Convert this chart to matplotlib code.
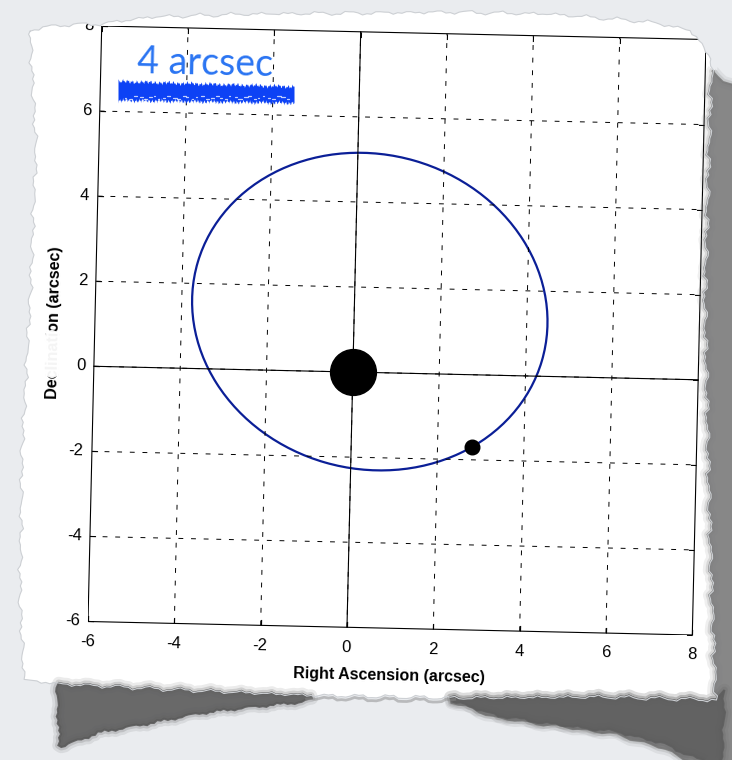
import numpy as np
import matplotlib.pyplot as plt
from matplotlib.patches import Ellipse, Polygon, PathPatch
from matplotlib.path import Path
from matplotlib.transforms import Affine2D
import mpl_toolkits.axisartist.floating_axes as floating_axes
from mpl_toolkits.axisartist.grid_finder import FixedLocator, DictFormatter

plt.rcParams['font.family'] = ['Liberation Sans', 'DejaVu Sans']

# sky-plane orbit, arcsec
x_range = (-6, 8)
y_range = (-6, 8)
x_ticks = [-6, -4, -2, 0, 2, 4, 6, 8]
y_ticks = [-6, -4, -2, 0, 2, 4, 6, 8]
orbit_center = (0.36, 1.43)
orbit_width = 8.30
orbit_height = 7.39
orbit_angle = -15.0
star_pos = (0.0, 0.0)
companion_pos = (2.8, -1.7)
scale_text = '4 arcsec'
tilt = -1.3

W, H = 732, 760
fig = plt.figure(figsize=(W / 100, H / 100), dpi=100, facecolor='#eaecef')


def torn(pts, n, amp, k):
    # resample a rough outline and give it a ragged torn-paper wobble
    pts = np.asarray(pts, float)
    seg = np.r_[0, np.cumsum(np.hypot(*np.diff(pts, axis=0).T))]
    s = np.linspace(0, seg[-1], n)
    x = np.interp(s, seg, pts[:, 0])
    y = np.interp(s, seg, pts[:, 1])
    dx, dy = np.gradient(x), np.gradient(y)
    L = np.hypot(dx, dy)
    wob = amp * (0.5 * np.sin(s * 0.21 + k) + 0.3 * np.sin(s * 0.83 + 2 * k)
                 + 0.2 * np.sin(s * 2.7 + 3 * k))
    return np.c_[x - dy / L * wob, y + dx / L * wob]


top = torn([(30, 30), (60, 25), (100, 24), (150, 17), (250, 14), (366, 13),
            (450, 12), (550, 14), (650, 22), (690, 30), (712, 58)], 160, 2.5, 0.3)
right = torn([(712, 58), (709, 150), (705, 300), (708, 450), (712, 600),
              (716, 700)], 160, 3.5, 1.1)
bottom = torn([(716, 700), (600, 697), (450, 698), (300, 695), (180, 690),
               (60, 684), (24, 680)], 160, 2.5, 2.0)
left = torn([(24, 680), (20, 600), (22, 450), (30, 300), (36, 150), (30, 30)],
            160, 3.0, 0.7)
paper = np.vstack([top, right[1:], bottom[1:], left[1:-1]])

# paper sheet underneath the plot
back = fig.add_axes([0, 0, 1, 1], zorder=0)
back.set_xlim(0, W)
back.set_ylim(H, 0)
back.axis('off')
back.add_patch(Polygon(paper, closed=True, facecolor='white', edgecolor='none'))

# rotated plot frame
tr = Affine2D().rotate_deg(tilt)
helper = floating_axes.GridHelperCurveLinear(
    tr, extremes=(*x_range, *y_range),
    grid_locator1=FixedLocator(x_ticks), grid_locator2=FixedLocator(y_ticks),
    tick_formatter1=DictFormatter({v: str(v) for v in x_ticks}),
    tick_formatter2=DictFormatter({v: str(v) for v in y_ticks}))
ax = fig.add_axes([88 / W, 1 - 635 / H, 618 / W, 609 / H],
                  axes_class=floating_axes.FloatingAxes, grid_helper=helper,
                  zorder=1)
ax.set_aspect('auto')
ax.patch.set_facecolor('white')
ax.grid(True, color='black', linestyle=(0, (5, 8)), linewidth=0.7)
for name in ['left', 'right', 'top', 'bottom']:
    ax.axis[name].line.set_linewidth(0.8)
    ax.axis[name].major_ticks.set_ticksize(4)
    ax.axis[name].major_ticklabels.set_fontsize(12)
ax.axis['left'].major_ticklabels.set_pad(6)
ax.axis['bottom'].major_ticklabels.set_pad(9)
ax.axis['bottom'].label.set_text('Right Ascension (arcsec)')
ax.axis['bottom'].label.set_fontsize(11.5)
ax.axis['bottom'].label.set_fontweight('bold')
ax.axis['bottom'].label.set_pad(11)
ax.axis['left'].label.set_text('Declination (arcsec)')
ax.axis['left'].label.set_fontsize(11.5)
ax.axis['left'].label.set_fontweight('bold')
ax.axis['left'].label.set_pad(7)

aux = ax.get_aux_axes(tr)
aux.plot(x_range, [0, 0], color='black', lw=0.8)
aux.plot([0, 0], y_range, color='black', lw=0.8)
aux.add_patch(Ellipse(orbit_center, orbit_width, orbit_height, angle=orbit_angle,
                      fill=False, edgecolor='#0b1f97', lw=1.6))
aux.plot(*star_pos, 'o', ms=33, color='black')
aux.plot(*companion_pos, 'o', ms=10.5, color='black')

# keep the frame filling the axes box (no autoscale margins)
corners = tr.transform([(x_range[0], y_range[0]), (x_range[1], y_range[0]),
                        (x_range[1], y_range[1]), (x_range[0], y_range[1])])
ax.set_xlim(corners[:, 0].min(), corners[:, 0].max())
ax.set_ylim(corners[:, 1].min(), corners[:, 1].max())

# background outside the torn sheet, shadows and hand annotation
front = fig.add_axes([0, 0, 1, 1], zorder=2)
front.set_xlim(0, W)
front.set_ylim(H, 0)
front.axis('off')


def area(p):
    return 0.5 * np.sum(p[:-1, 0] * p[1:, 1] - p[1:, 0] * p[:-1, 1])


outer = np.array([[-20, -20], [W + 20, -20], [W + 20, H + 20], [-20, H + 20], [-20, -20]])
inner = np.vstack([paper, paper[:1]])
if np.sign(area(outer)) == np.sign(area(inner)):
    inner = inner[::-1]
codes = ([Path.MOVETO] + [Path.LINETO] * (len(outer) - 2) + [Path.CLOSEPOLY]
         + [Path.MOVETO] + [Path.LINETO] * (len(inner) - 2) + [Path.CLOSEPOLY])
front.add_patch(PathPatch(Path(np.vstack([outer, inner]), codes),
                          facecolor='#eaecef', edgecolor='none'))

# shadow under the lower-left corner
bl_edge = bottom[(bottom[:, 0] > 57) & (bottom[:, 0] < 312)]
bl_out = torn([(57, 688), (60, 747), (100, 732), (150, 723), (200, 713),
               (250, 707), (300, 702), (312, 699)], 90, 2.0, 1.7)
shadow_bl = np.vstack([bl_edge, bl_out])
# shadow along the right side
r_edge = right[right[:, 1] > 70]
br_edge = bottom[bottom[:, 0] > 450]
r_out = torn([(452, 701), (500, 718), (560, 727), (620, 735), (665, 748),
              (700, 765), (745, 768), (745, 90), (726, 82), (712, 72)], 140, 2.5, 0.9)
shadow_r = np.vstack([r_edge, br_edge, r_out])
# darker core below the lower-right corner
br_out = torn([(452, 701), (500, 716), (560, 725), (620, 732), (665, 744),
               (700, 760), (722, 762), (724, 690)], 80, 2.0, 2.4)
shadow_br = np.vstack([br_edge, br_out])

for shp, col in ((shadow_bl, '#5b5b5b'), (shadow_r, '#7c7c7c'), (shadow_br, '#5e5e5e')):
    for lw, a in ((9, 0.12), (5, 0.2)):
        front.add_patch(Polygon(shp, closed=True, facecolor='none', edgecolor=col,
                                lw=lw, alpha=a, joinstyle='round'))
    front.add_patch(Polygon(shp, closed=True, facecolor=col, edgecolor=col,
                            lw=1.5, alpha=0.9))
mid = bottom[(bottom[:, 0] > 305) & (bottom[:, 0] < 455)]
front.plot(mid[:, 0], mid[:, 1] + 3, color='#8a8a8a', lw=2, alpha=0.5)
front.plot(*np.vstack([paper, paper[:1]]).T, color='#cdd0d4', lw=0.8)

# faded patch of the sheet over the axis label
front.add_patch(Ellipse((52, 354), 24, 48, facecolor='white', edgecolor='none', alpha=0.96))

# scale annotation with a marker scribble
front.text(137, 76, scale_text, color='#2a74f2', fontsize=27, family='Lato',
           ha='left', va='baseline', rotation=tilt)
sx = np.linspace(118, 294, 500)
s_top = (81 + (sx - 118) * 0.03 + 1.1 * np.sin(sx * 1.37) + 0.8 * np.sin(sx * 3.11 + 1)
         + 0.6 * np.sin(sx * 7.3 + 2) + 0.5 * np.sin(sx * 0.29))
s_bot = (100 + (sx - 118) * 0.015 + 1.2 * np.sin(sx * 1.93 + 0.5) + 0.8 * np.sin(sx * 4.7)
         + 0.6 * np.sin(sx * 8.9 + 1) + 0.6 * np.sin(sx * 0.37 + 2))
front.fill_between(sx, s_top, s_bot, color='#0d42f5', lw=0)
gx = 121 + np.cumsum(3.5 + 2.5 * np.sin(np.arange(40) * 1.7) ** 2)
for i, x0 in enumerate(gx[gx < 290]):
    yy = 97.5 + 1.8 * np.sin(i * 1.9)
    front.plot([x0, x0 + 1.2 + 2.5 * np.sin(i * 2.7) ** 2], [yy, yy], color='white',
               lw=0.9, alpha=0.75, solid_capstyle='round')

fig.savefig('out.png', dpi=100, facecolor=fig.get_facecolor())
